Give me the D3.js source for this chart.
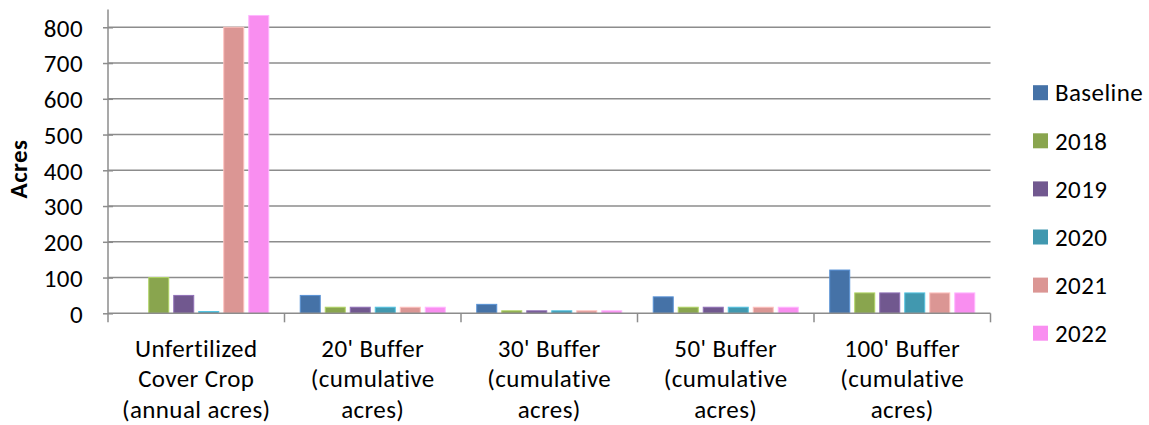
<!DOCTYPE html>
<html><head><meta charset="utf-8">
<script src="https://cdn.jsdelivr.net/npm/d3@7"></script>
<style>
html,body{margin:0;padding:0;background:#fff;}
svg text{font-family:Carlito,Calibri,Lato,sans-serif;fill:#000;letter-spacing:0.4px;}
</style></head>
<body><svg id="chart" width="1149" height="425"></svg>
<script>
const categories = [
  ["Unfertilized","Cover Crop","(annual acres)"],
  ["20' Buffer","(cumulative","acres)"],
  ["30' Buffer","(cumulative","acres)"],
  ["50' Buffer","(cumulative","acres)"],
  ["100' Buffer","(cumulative","acres)"]
];
const seriesNames = ["Baseline","2018","2019","2020","2021","2022"];
const seriesColors = ["#4572A7","#89A54E","#71588F","#4198AF","#DB9694","#F98EF0"];
const baseline = [0, 50, 25, 46, 121];
const y2018 = [100, 17, 7, 17, 57];
const y2019 = [50, 17, 7, 17, 57];
const y2020 = [5, 17, 7, 17, 57];
const y2021 = [800, 17, 7, 17, 57];
const y2022 = [833, 17, 7, 17, 57];
const yTicks = [0,100,200,300,400,500,600,700,800];
const yMax = 850;

const series = [baseline,y2018,y2019,y2020,y2021,y2022];
const svg = d3.select("#chart");
const L = 108, R = 990.5, T = 9.4, B = 313.3;
const FS = 25;
const grid = "#8c8c8c";

const y = d3.scaleLinear().domain([0, yMax]).range([B, T]);
const x0 = d3.scaleBand().domain(d3.range(categories.length)).range([L, R]).paddingInner(0).paddingOuter(0);
const groupW = x0.bandwidth() * 0.85;
const x1 = d3.scaleBand().domain(d3.range(series.length)).range([0, groupW]).paddingInner(0.2).paddingOuter(0.1);

// gridlines
svg.append("g").selectAll("line").data(yTicks.filter(d=>d>0)).join("line")
  .attr("x1", L).attr("x2", R).attr("y1", d=>y(d)).attr("y2", d=>y(d))
  .attr("stroke", grid).attr("stroke-width", 1.5);

// y axis
const yAxis = svg.append("g").attr("transform", `translate(${L},0)`)
  .call(d3.axisLeft(y).tickValues(yTicks).tickSize(5).tickPadding(20));
yAxis.select(".domain").remove();
yAxis.selectAll(".tick line").attr("stroke", grid).attr("stroke-width",1.5).attr("x1",5).attr("x2",-5);
yAxis.selectAll(".tick text").style("font-size", FS+"px").attr("dy","0.35em");
svg.append("line").attr("x1",L).attr("x2",L).attr("y1",T).attr("y2",B).attr("stroke",grid).attr("stroke-width",1.5);

// bars
const g = svg.append("g");
series.forEach((vals, si) => {
  g.append("g").selectAll("rect").data(vals).join("rect")
    .attr("x", (d,i)=> x0(i) + (x0.bandwidth()-groupW)/2 + x1(si))
    .attr("width", x1.bandwidth())
    .attr("y", d=>y(d))
    .attr("height", d=> B - y(d))
    .attr("fill", seriesColors[si])
    .attr("stroke", d3.color(seriesColors[si]).brighter(0.7))
    .attr("stroke-width", 1);
});

// x axis line + ticks
svg.append("line").attr("x1",L).attr("x2",R).attr("y1",B).attr("y2",B).attr("stroke",grid).attr("stroke-width",1.5);
const bounds = d3.range(categories.length+1).map(i => i<categories.length ? x0(i) : R);
svg.append("g").selectAll("line").data(bounds).join("line")
  .attr("x1",d=>d).attr("x2",d=>d).attr("y1",B).attr("y2",B+9)
  .attr("stroke",grid).attr("stroke-width",1.5);

// category labels
categories.forEach((lines,i)=>{
  const t = svg.append("text").attr("text-anchor","middle").style("font-size",FS+"px");
  lines.forEach((ln,k)=>{
    t.append("tspan").attr("x", x0(i)+x0.bandwidth()/2).attr("y", 356.5 + k*30.6).text(ln);
  });
});

// axis title
svg.append("text").attr("transform","translate(27,169) rotate(-90)")
  .attr("text-anchor","middle").style("font-size",FS+"px").style("font-weight","bold").text("Acres");

// legend
const lg = svg.append("g");
seriesNames.forEach((n,i)=>{
  const cy = 92.7 + i*48.1;
  lg.append("rect").attr("x",1033).attr("y",cy-7.5).attr("width",15).attr("height",15).attr("fill",seriesColors[i]);
  lg.append("text").attr("x",1055).attr("y",cy).attr("dy","0.35em").style("font-size",FS+"px").text(n);
});
</script></body></html>
